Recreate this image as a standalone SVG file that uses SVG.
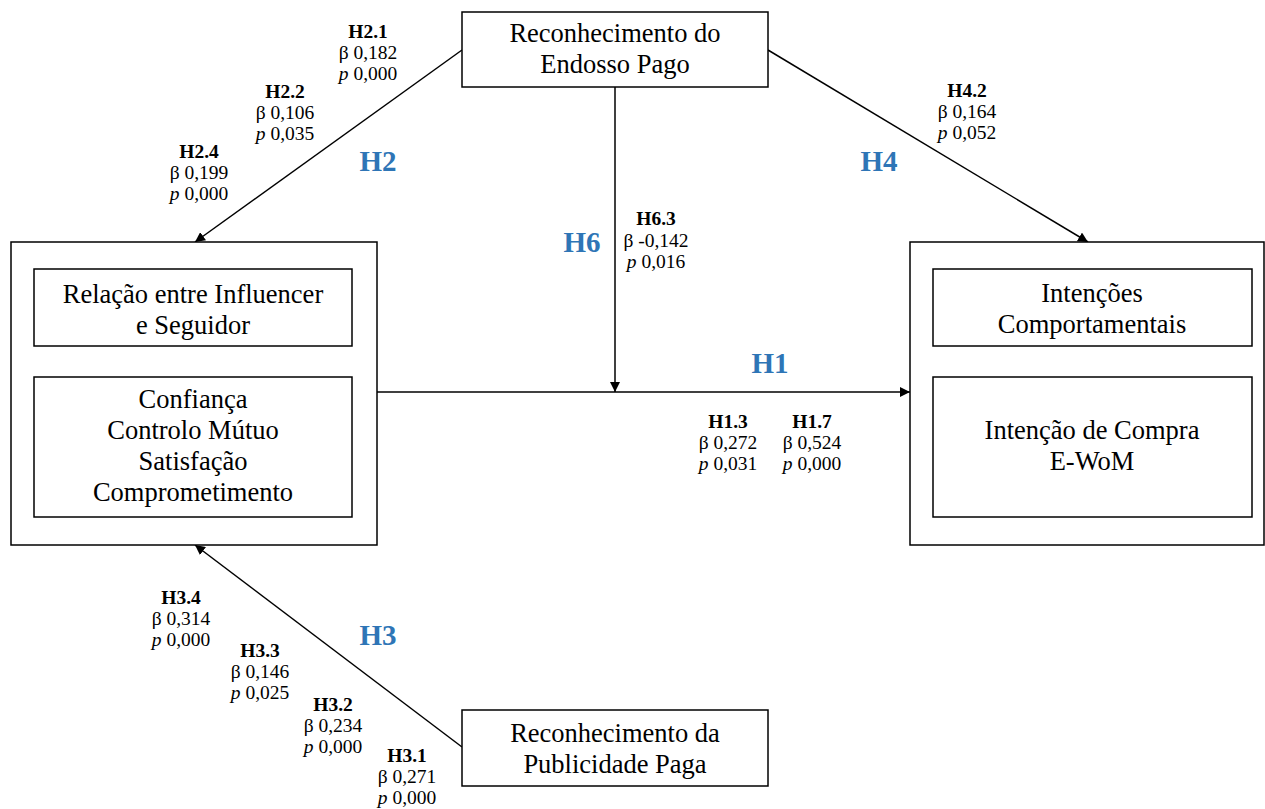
<svg xmlns="http://www.w3.org/2000/svg" width="1265" height="809" viewBox="0 0 1265 809">
<style>
.box{fill:#fff;stroke:#000;stroke-width:1.5}
.bt{font-family:"Liberation Serif","Times New Roman",serif;font-size:26.5px;fill:#000;text-anchor:middle}
.st{font-family:"Liberation Serif","Times New Roman",serif;font-size:19.5px;fill:#000;text-anchor:middle}
.b{font-weight:bold}
.i{font-style:italic}
.h{font-family:"Liberation Serif","Times New Roman",serif;font-size:29px;font-weight:bold;fill:#2E75B6;text-anchor:middle}
.ln{stroke:#000;stroke-width:1.5;fill:none}
</style>
<defs>
<marker id="ah" viewBox="0 0 10 10" refX="10" refY="5" markerWidth="10" markerHeight="10" markerUnits="userSpaceOnUse" orient="auto">
<path d="M0,0 L10,5 L0,10 Z" fill="#000"/>
</marker>
</defs>
<rect width="1265" height="809" fill="#fff"/>
<g id="connectors">
<line class="ln" x1="462" y1="50" x2="195" y2="242" marker-end="url(#ah)"/>
<line class="ln" x1="768" y1="50" x2="1088" y2="242" marker-end="url(#ah)"/>
<line class="ln" x1="615" y1="87" x2="615" y2="392" marker-end="url(#ah)"/>
<line class="ln" x1="377" y1="392" x2="910" y2="392" marker-end="url(#ah)"/>
<line class="ln" x1="462" y1="747" x2="195" y2="545" marker-end="url(#ah)"/>
</g>
<g id="node-endosso">
<rect class="box" x="462" y="12" width="306" height="75"/>
<text class="bt" x="615" y="42">Reconhecimento do</text>
<text class="bt" x="615" y="73">Endosso Pago</text>
</g>
<g id="node-publicidade">
<rect class="box" x="462" y="710" width="306" height="76"/>
<text class="bt" x="615" y="742">Reconhecimento da</text>
<text class="bt" x="615" y="773">Publicidade Paga</text>
</g>
<g id="node-relacao">
<rect class="box" x="11" y="242" width="366" height="303"/>
<rect class="box" x="34" y="269" width="318" height="77"/>
<text class="bt" x="193" y="303">Relação entre Influencer</text>
<text class="bt" x="193" y="334">e Seguidor</text>
<rect class="box" x="34" y="377" width="318" height="140"/>
<text class="bt" x="193" y="408">Confiança</text>
<text class="bt" x="193" y="439">Controlo Mútuo</text>
<text class="bt" x="193" y="470">Satisfação</text>
<text class="bt" x="193" y="501">Comprometimento</text>
</g>
<g id="node-intencoes">
<rect class="box" x="910" y="242" width="354" height="303"/>
<rect class="box" x="933" y="269" width="319" height="77"/>
<text class="bt" x="1092" y="302">Intenções</text>
<text class="bt" x="1092" y="333">Comportamentais</text>
<rect class="box" x="933" y="377" width="319" height="140"/>
<text class="bt" x="1092" y="439">Intenção de Compra</text>
<text class="bt" x="1092" y="470">E-WoM</text>
</g>
<g id="labels">
<text class="h" x="378" y="171">H2</text>
<text class="h" x="879" y="171">H4</text>
<text class="h" x="582" y="252">H6</text>
<text class="h" x="770" y="373">H1</text>
<text class="h" x="378" y="645">H3</text>

<text class="st b" x="368" y="38">H2.1</text>
<text class="st" x="368" y="59">β 0,182</text>
<text class="st" x="368" y="80"><tspan class="i">p</tspan> 0,000</text>

<text class="st b" x="285" y="98">H2.2</text>
<text class="st" x="285" y="119">β 0,106</text>
<text class="st" x="285" y="140"><tspan class="i">p</tspan> 0,035</text>

<text class="st b" x="199" y="158">H2.4</text>
<text class="st" x="199" y="179">β 0,199</text>
<text class="st" x="199" y="200"><tspan class="i">p</tspan> 0,000</text>

<text class="st b" x="967" y="97">H4.2</text>
<text class="st" x="967" y="118">β 0,164</text>
<text class="st" x="967" y="139"><tspan class="i">p</tspan> 0,052</text>

<text class="st b" x="656" y="225">H6.3</text>
<text class="st" x="656" y="247">β -0,142</text>
<text class="st" x="656" y="268"><tspan class="i">p</tspan> 0,016</text>

<text class="st b" x="728" y="428">H1.3</text>
<text class="st" x="728" y="449">β 0,272</text>
<text class="st" x="728" y="470"><tspan class="i">p</tspan> 0,031</text>

<text class="st b" x="812" y="428">H1.7</text>
<text class="st" x="812" y="449">β 0,524</text>
<text class="st" x="812" y="470"><tspan class="i">p</tspan> 0,000</text>

<text class="st b" x="181" y="604">H3.4</text>
<text class="st" x="181" y="625">β 0,314</text>
<text class="st" x="181" y="646"><tspan class="i">p</tspan> 0,000</text>

<text class="st b" x="260" y="657">H3.3</text>
<text class="st" x="260" y="678">β 0,146</text>
<text class="st" x="260" y="699"><tspan class="i">p</tspan> 0,025</text>

<text class="st b" x="333" y="711">H3.2</text>
<text class="st" x="333" y="732">β 0,234</text>
<text class="st" x="333" y="753"><tspan class="i">p</tspan> 0,000</text>

<text class="st b" x="407" y="762">H3.1</text>
<text class="st" x="407" y="783">β 0,271</text>
<text class="st" x="407" y="804"><tspan class="i">p</tspan> 0,000</text>
</g>
</svg>
